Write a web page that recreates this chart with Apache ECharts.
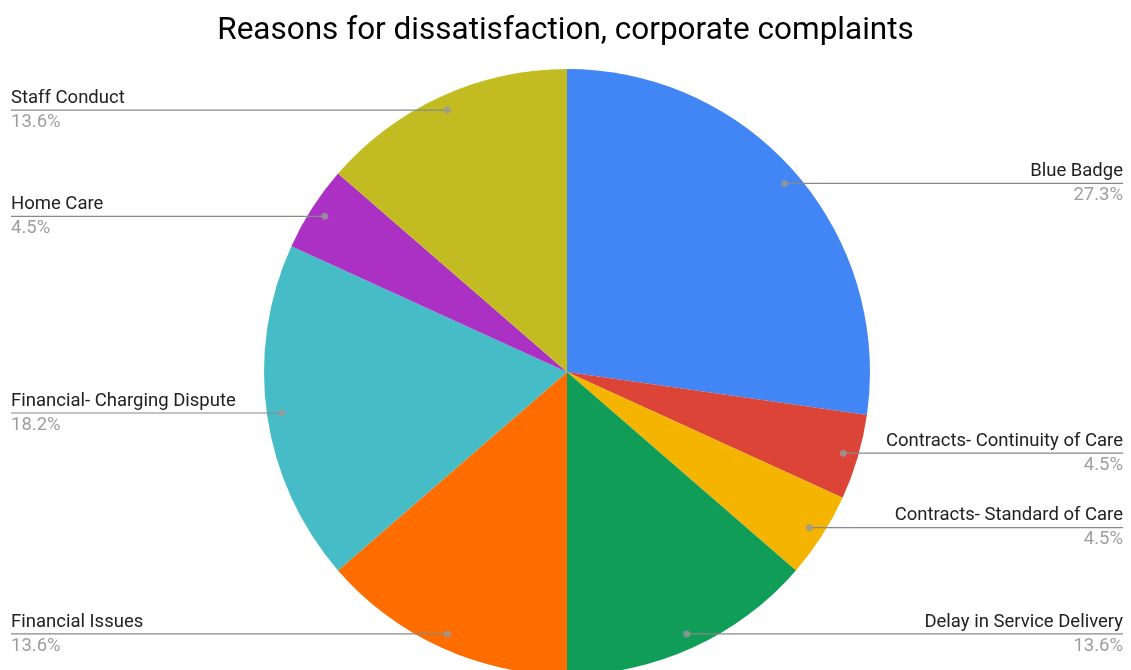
<!DOCTYPE html>
<html>
<head>
<meta charset="utf-8">
<title>Reasons for dissatisfaction</title>
<script src="https://cdn.jsdelivr.net/npm/echarts@6/dist/echarts.min.js"></script>
<style>
    html, body { margin: 0; padding: 0; background: #fff; }
    #main { width: 1131px; height: 670px; }
</style>
</head>
<body>
<div id="main"></div>
<script>
// data
var categories = ['Blue Badge', 'Contracts- Continuity of Care', 'Contracts- Standard of Care',
    'Delay in Service Delivery', 'Financial Issues', 'Financial- Charging Dispute', 'Home Care', 'Staff Conduct'];
var counts = [6, 1, 1, 3, 3, 4, 1, 3];
var colors = ['#4285F4', '#DB4437', '#F4B400', '#0F9D58', '#FF6D01', '#46BDC6', '#AB30C4', '#C2BC22'];

var total = counts.reduce(function (a, b) { return a + b; }, 0);

var dom = document.getElementById('main');
var myChart = echarts.init(dom);

var center = [567, 372];
var pieR = 303;   // slice radius
var dotR = 288;   // where the label dots sit

// pie slices
var pieData = categories.map(function (c, i) {
    return { name: c, value: counts[i], itemStyle: { color: colors[i] } };
});
// same slices, transparent, only carry labels + lines (drawn above the coloured pie)
var labelData = categories.map(function (c, i) {
    return { name: c, value: counts[i] };
});

// dot inside every slice, at the middle angle (polar scatter)
var dotData = [];
var acc = 0;
for (var i = 0; i < counts.length; i++) {
    dotData.push([1, acc + counts[i] / 2]);
    acc += counts[i];
}

var option = {
    animation: false,
    title: {
        text: 'Reasons for dissatisfaction, corporate complaints',
        left: 'center',
        top: 10,
        textStyle: { fontFamily: 'Roboto', fontSize: 31.5, fontWeight: 'normal', color: '#000' }
    },
    polar: { center: center, radius: dotR },
    angleAxis: {
        type: 'value', min: 0, max: total, startAngle: 90, clockwise: true,
        axisLine: { show: false }, axisTick: { show: false }, axisLabel: { show: false }, splitLine: { show: false }
    },
    radiusAxis: {
        type: 'value', min: 0, max: 1,
        axisLine: { show: false }, axisTick: { show: false }, axisLabel: { show: false }, splitLine: { show: false }
    },
    series: [
        {
            type: 'pie',
            center: center,
            radius: pieR,
            startAngle: 90,
            clockwise: true,
            silent: true,
            z: 2,
            label: { show: false },
            labelLine: { show: false },
            data: pieData
        },
        {
            type: 'pie',
            center: center,
            radius: pieR,
            startAngle: 90,
            clockwise: true,
            silent: true,
            z: 4,
            avoidLabelOverlap: false,
            itemStyle: { color: 'rgba(0,0,0,0)' },
            label: {
                show: true,
                position: 'outside',
                formatter: function (p) { return '{n|' + p.name + '}\n{p|' + p.percent.toFixed(1) + '%}'; },
                rich: {
                    n: { fontFamily: 'Roboto', fontSize: 18.5, color: '#212121', lineHeight: 24 },
                    p: { fontFamily: 'Roboto', fontSize: 18.5, color: '#9e9e9e', lineHeight: 24 }
                }
            },
            labelLine: { show: true, length: 5, length2: 5, lineStyle: { color: '#888888', width: 1.2, opacity: 1 } },
            // move every label to the chart edge, line runs from the dot to the edge under the text
            labelLayout: function (params) {
                var p0 = params.labelLinePoints ? params.labelLinePoints[0] : [params.rect.x, params.rect.y];
                var dx = p0[0] - center[0], dy = p0[1] - center[1];
                var d = Math.sqrt(dx * dx + dy * dy) || 1;
                var cx = center[0] + dx / d * dotR;
                var cy = center[1] + dy / d * dotR;
                var right = cx > center[0];
                var edgeX = right ? myChart.getWidth() - 8 : 11;
                return {
                    x: edgeX,
                    y: cy,
                    align: right ? 'right' : 'left',
                    verticalAlign: 'middle',
                    labelLinePoints: [[cx, cy], [edgeX, cy]]
                };
            },
            data: labelData
        },
        {
            type: 'scatter',
            coordinateSystem: 'polar',
            symbol: 'circle',
            symbolSize: 7,
            silent: true,
            itemStyle: { color: '#999999' },
            z: 5,
            data: dotData
        }
    ]
};

myChart.setOption(option);
</script>
</body>
</html>
